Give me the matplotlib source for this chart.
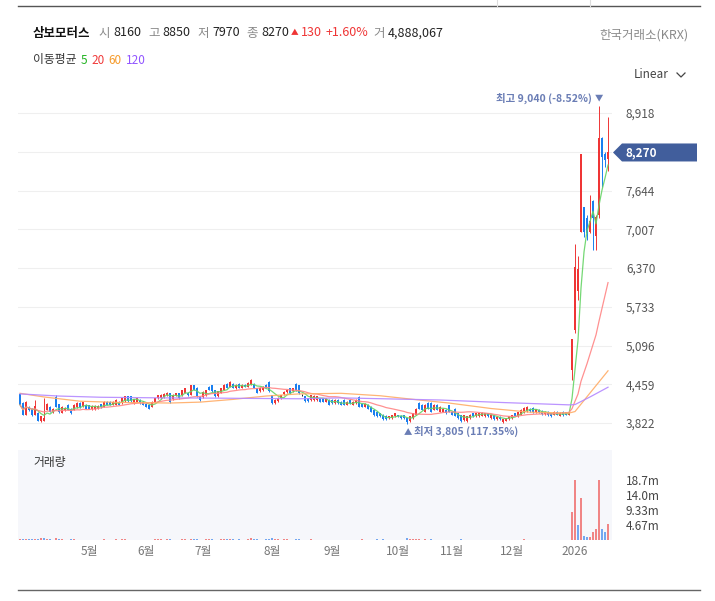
import matplotlib
matplotlib.use('Agg')
import matplotlib.pyplot as plt
import matplotlib.transforms as mtrans
from matplotlib.patches import Polygon
import numpy as np
import pandas as pd

plt.rcParams['font.family'] = ['Noto Sans CJK KR', 'DejaVu Sans']

# trading days (KRX closed days)
holidays = ['2025-05-01', '2025-05-05', '2025-05-06', '2025-06-03', '2025-06-06',
            '2025-08-15', '2025-10-03', '2025-10-06', '2025-10-07', '2025-10-08',
            '2025-10-09', '2025-12-25', '2025-12-31', '2026-01-01']
dates = pd.bdate_range('2025-03-31', '2026-01-19', freq='C', holidays=holidays)

opens = [4300,4150,3960,4090,4060,3960,3990,3850,3860,4040, 4090,4000,4250,4130,3990,4030,4120,4060,4040,4080,
         4150,4100,4120,4110,4050,4050,4060,4130,4090,4170, 4170,4120,4120,4170,4150,4180,4260,4260,4150,4170,
         4200,4170,4140,4120,4090,4170,4230,
         4230,4250,4280,4310,4210,4270,4310,4280,4320,4320, 4290,4440,4400,4250,4250,4280,4420,4440,4360,4260,
         4320,4370,4470,4420,4470,4390,4470,4400,4450,4420, 4450,4470,4390,4340,4360,4450,4500,4280,4150,4180,
         4230,4300,4330,4390,4340,4460,4440,
         4280,4260,4230,4200,4200,4200,4230,4230,4170,4200, 4200,4150,4200,4170,4200,4120,4200,4120,4150,4250,
         4140,4090,4120,4090,4040,4010,3980,3960,3940,3900, 3900,3930,3950,3940,3950,3900,3850,3900,3960,4150,
         4120,4010,4150,4150,4040,4120,4010,4010,4040,4110,
         4000,4060,3980,3950,3870,3850,3900,3980,3930,3930, 3940,3930,3980,3900,3950,3880,3920,3830,3860,3880,
         3900,3980,3930,3960,4000,4020,4060,4070,4000,4040, 4020,3970,4010,3980,3960,4010,3940,4010,4000,3960,
         4700,5350,6000,6970,7370,7200,6960,7480,6900,7250,8500,8250,8160]
highs = [4310,4160,4180,4100,4070,4200,4000,3940,4230,4150, 4100,4070,4280,4140,4100,4080,4130,4070,4130,4160,
         4160,4170,4130,4120,4110,4110,4110,4140,4180,4180, 4180,4180,4210,4180,4240,4270,4270,4270,4220,4240,
         4210,4180,4150,4130,4180,4240,4290,
         4300,4310,4330,4320,4300,4320,4320,4370,4400,4330, 4450,4450,4410,4260,4340,4370,4430,4450,4370,4350,
         4400,4460,4480,4510,4480,4460,4480,4460,4460,4490, 4550,4480,4400,4410,4430,4460,4510,4290,4210,4250,
         4290,4340,4380,4400,4400,4480,4450,
         4300,4270,4240,4290,4280,4270,4240,4240,4240,4210, 4210,4210,4210,4180,4210,4180,4210,4180,4210,4260,
         4150,4150,4130,4100,4050,4020,3990,3970,3950,3940, 3960,3990,3960,3950,3960,3910,3940,3990,4070,4170,
         4130,4130,4160,4160,4130,4130,4100,4070,4050,4120,
         4010,4070,3990,3960,3960,3940,3970,3990,3990,3990, 3995,3990,3990,3960,3960,3930,3930,3890,3910,3940,
         3960,3990,4010,4050,4080,4100,4070,4080,4060,4050, 4030,4020,4020,3990,4020,4020,4000,4020,4010,4020,
         5210,6770,6560,8250,7380,7250,7570,7490,7250,9040,8530,8280,8850]
lows = [4100,3950,3950,4020,3940,3950,3850,3840,3850,4030, 4000,3990,4080,3990,3980,4020,4030,3970,4030,4070,
        4070,4090,4050,4050,4040,4040,4050,4070,4080,4110, 4110,4110,4110,4110,4140,4170,4170,4170,4140,4160,
        4140,4110,4080,4050,4080,4160,4220,
        4220,4240,4270,4150,4200,4260,4220,4270,4310,4270, 4280,4360,4250,4190,4240,4270,4360,4330,4250,4250,
        4310,4360,4390,4410,4390,4380,4390,4390,4410,4410, 4440,4390,4310,4330,4350,4390,4330,4140,4140,4170,
        4220,4290,4320,4300,4330,4350,4300,
        4260,4170,4170,4190,4190,4190,4160,4160,4160,4110, 4140,4140,4140,4110,4110,4110,4140,4110,4140,4080,
        4080,4080,4050,4000,3940,3920,3920,3870,3870,3890, 3890,3920,3920,3890,3890,3805,3840,3890,3950,4050,
        4030,4000,4050,4000,4030,4030,4000,4000,3970,4000,
        3950,3930,3890,3840,3860,3840,3890,3920,3920,3920, 3930,3920,3920,3890,3870,3870,3870,3815,3850,3870,
        3890,3930,3920,3950,3990,4010,4010,3990,3990,3990, 3960,3960,3940,3920,3950,3950,3930,3940,3950,3950,
        4530,5300,5840,6960,6880,6830,6940,6670,6670,7200,7710,8030,7970]
closes = [4120,3960,4170,4035,3950,4100,3860,3930,3900,4140, 4010,4060,4090,4000,4090,4070,4040,3980,4120,4150,
          4080,4160,4060,4060,4100,4100,4100,4080,4170,4120, 4120,4170,4200,4120,4230,4260,4180,4180,4210,4230,
          4150,4120,4090,4060,4170,4230,4280,
          4290,4300,4320,4160,4290,4310,4230,4360,4390,4280, 4440,4370,4260,4200,4330,4360,4370,4340,4260,4340,
          4390,4450,4400,4500,4400,4450,4400,4450,4420,4480, 4530,4400,4320,4400,4420,4400,4340,4150,4200,4240,
          4280,4330,4370,4310,4390,4360,4310,
          4280,4180,4180,4280,4270,4260,4170,4170,4230,4120, 4150,4200,4150,4120,4120,4170,4150,4170,4200,4090,
          4090,4140,4060,4010,3950,3930,3930,3880,3880,3930, 3950,3980,3930,3900,3900,3840,3930,3980,4060,4060,
          4040,4120,4060,4010,4120,4040,4090,4060,3980,4010,
          3960,3940,3900,3850,3950,3930,3960,3930,3980,3980, 3985,3980,3930,3950,3880,3920,3880,3880,3900,3930,
          3950,3940,4000,4040,4070,4090,4020,4000,4050,4000, 3970,4010,3950,3930,4010,3960,3990,3950,3960,4010,
          5210,6390,6350,8250,6970,6950,7150,7200,7210,8500,8200,8140,8270]
# volume in millions
volumes = [0.32,0.41,0.35,0.18,0.22,0.27,0.30,0.62,0.55,0.24,0.16,0.14,0.71,0.28,0.19,0.13,0.15,0.17,0.16,0.14,
           0.12,0.15,0.13,0.11,0.10,0.09,0.11,0.12,0.16,0.13,0.11,0.12,0.18,0.14,0.20,0.22,0.15,0.13,0.12,0.14,
           0.11,0.12,0.10,0.12,0.15,0.19,0.21,0.17,0.15,0.16,0.22,0.14,0.13,0.12,0.18,0.20,0.14,0.26,0.19,0.21,
           0.15,0.14,0.16,0.18,0.17,0.15,0.13,0.17,0.22,0.18,0.24,0.19,0.15,0.16,0.14,0.13,0.18,0.48,0.21,0.19,
           0.15,0.14,0.16,0.22,0.58,0.25,0.17,0.15,0.16,0.18,0.14,0.15,0.27,0.19,0.13,0.15,0.14,0.17,0.13,0.12,
           0.13,0.12,0.11,0.13,0.12,0.10,0.11,0.12,0.13,0.10,0.11,0.12,0.10,0.13,0.16,0.11,0.10,0.12,0.13,0.17,
           0.14,0.16,0.12,0.11,0.12,0.11,0.13,0.12,0.14,0.52,0.31,0.22,0.28,0.21,0.15,0.17,0.14,0.16,0.15,0.13,
           0.12,0.11,0.13,0.14,0.12,0.15,0.13,0.16,0.14,0.12,0.11,0.10,0.11,0.10,0.09,0.10,0.11,0.10,0.12,0.11,
           0.10,0.14,0.11,0.10,0.11,0.12,0.13,0.15,0.16,0.14,0.12,0.11,0.10,0.11,0.12,0.10,0.11,0.10,0.09,0.10,
           0.11,0.10,0.12,0.15,
           8.8,18.662,4.7,13.0,1.2,1.0,1.0,2.4,3.3,18.6,3.3,2.5,4.888067]

# long moving averages (index, value)
ma60_idx = [0, 8, 20, 33, 50, 60, 71, 82, 93, 107, 120, 133, 143, 157, 170, 183, 185, 190, 196]
ma60_val = [4310, 4250, 4180, 4160, 4150, 4165, 4210, 4265, 4300, 4310, 4270, 4200, 4150, 4060, 4000, 3985, 4010, 4315, 4680]
ma120_idx = [0, 13, 27, 47, 67, 93, 107, 140, 160, 183, 185, 190, 196]
ma120_val = [4300, 4265, 4245, 4235, 4230, 4220, 4235, 4200, 4160, 4120, 4125, 4250, 4410]

price_ticks = [3822, 4459, 5096, 5733, 6370, 7007, 7644, 8281, 8918]

W, H = 715, 601
df = pd.DataFrame({'open': opens, 'high': highs, 'low': lows, 'close': closes, 'vol': volumes}, index=dates)
x = np.arange(len(df))
o, h, l, c = df['open'].values, df['high'].values, df['low'].values, df['close'].values

RED, BLUE = '#ef3535', '#1a7ff0'
col = np.where(c > o, RED, np.where(c < o, BLUE, '#222222'))

fig = plt.figure(figsize=(W / 100, H / 100), dpi=100)
fig.patch.set_facecolor('white')
ax = fig.add_axes([18 / W, (H - 445) / H, 594 / W, 350 / H])
axv = fig.add_axes([18 / W, (H - 540) / H, 594 / W, 90 / H])

# price panel
for yv in price_ticks:
    ax.axhline(yv, color='#efefef', lw=0.8, zorder=0)
ax.vlines(x, l, h, colors=col, lw=0.7, zorder=3)
ax.bar(x, np.maximum(np.abs(c - o), 10), bottom=np.minimum(o, c), width=0.62, color=col, zorder=3)

ma5 = df['close'].rolling(5, min_periods=1).mean()
ma20 = df['close'].rolling(20, min_periods=1).mean()
ax.plot(x, ma5, color='#66d466', lw=0.9, alpha=0.9, zorder=4)
ax.plot(x, ma20, color='#ff8585', lw=0.9, alpha=0.9, zorder=4)
ax.plot(ma60_idx, ma60_val, color='#ffac66', lw=0.9, alpha=0.9, zorder=4)
ax.plot(ma120_idx, ma120_val, color='#b488ff', lw=0.9, alpha=0.9, zorder=4)

ax.set_xlim(-0.67, len(df) + 0.33)
ax.set_ylim(3460, 9215)
for s in ax.spines.values():
    s.set_visible(False)
ax.set_xticks([])
ax.yaxis.tick_right()
ax.set_yticks(price_ticks)
last = c[-1]
# the tick hidden under the current-price tag gets no label
ax.set_yticklabels(['' if abs(v - last) < 100 else f'{v:,}' for v in price_ticks])
ax.tick_params(axis='y', length=0, pad=10, labelsize=8.5, labelcolor='#555555')

# highest / lowest markers
hi_i, lo_i = int(np.argmax(h)), int(np.argmin(l))
hi, lo = h[hi_i], l[lo_i]
mark_col = '#6a7db5'
ax.annotate('▼', xy=(hi_i, hi), xytext=(0, 2), textcoords='offset points', ha='center', va='bottom',
            fontsize=6, color=mark_col)
ax.annotate(f'최고 {hi:,} ({(last / hi - 1) * 100:.2f}%)', xy=(hi_i, hi), xytext=(-5, 1.5),
            textcoords='offset points', ha='right', va='bottom', fontsize=7.5, color=mark_col, fontweight='bold')
ax.annotate('▲', xy=(lo_i, lo), xytext=(1, -3), textcoords='offset points', ha='center', va='top',
            fontsize=6, color=mark_col)
ax.annotate(f'최저 {lo:,} ({(last / lo - 1) * 100:.2f}%)', xy=(lo_i, lo), xytext=(5, -1.5),
            textcoords='offset points', ha='left', va='top', fontsize=7.5, color=mark_col, fontweight='bold')

# current price tag
dy = 9 * (9215 - 3460) / 350
tr = mtrans.blended_transform_factory(fig.transFigure, ax.transData)
tag = Polygon([(613 / W, last), (622 / W, last + dy), (697 / W, last + dy), (697 / W, last - dy), (622 / W, last - dy)],
              closed=True, transform=tr, facecolor='#415e9c', edgecolor='none', clip_on=False, zorder=10)
ax.add_patch(tag)
ax.text(626 / W, last, f'{last:,}', transform=tr, color='white', fontsize=8.5, fontweight='bold',
        va='center', ha='left', zorder=11, clip_on=False)

# volume panel
axv.set_facecolor('#f6f7fb')
vcol = ['#f08585' if i == 0 or c[i] >= c[i - 1] else '#74a7f0' for i in range(len(c))]
axv.bar(x, df['vol'], width=0.5, color=vcol)
axv.set_xlim(ax.get_xlim())
vmax = df['vol'].max()
axv.set_ylim(0, vmax * 1.5)
for s in axv.spines.values():
    s.set_visible(False)
vt = [vmax * k / 4 for k in (1, 2, 3, 4)]


def sig3(v):
    d = max(0, 2 - int(np.floor(np.log10(v))))
    return f'{v:.{d}f}m'


axv.yaxis.tick_right()
axv.set_yticks(vt)
axv.set_yticklabels([sig3(v) for v in vt])
axv.tick_params(axis='y', length=0, pad=10, labelsize=8.5, labelcolor='#444444')

# month labels (the month the chart opens in is not labelled)
month_pos = [i for i in range(1, len(dates)) if dates[i].month != dates[i - 1].month][1:]
month_lab = [str(dates[i].year) if dates[i].month == 1 else f'{dates[i].month}월' for i in month_pos]
axv.set_xticks(month_pos)
axv.set_xticklabels(month_lab)
axv.tick_params(axis='x', length=0, pad=3.5, labelsize=8.5, labelcolor='#777777')
axv.text(15 / 594, 0.86, '거래량', transform=axv.transAxes, fontsize=8.5, color='#333333', va='center')

# header
renderer = fig.canvas.get_renderer()


def put_row(items, x0, y0):
    xp = x0
    for txt, color, size, weight, gap in items:
        xp += gap
        t = fig.text(xp / W, 1 - y0 / H, txt, color=color, fontsize=size, fontweight=weight, va='center', ha='left')
        xp = t.get_window_extent(renderer).x1


chg = c[-1] - c[-2]
pct = chg / c[-2] * 100
vol_last = int(round(volumes[-1] * 1e6))
g, d = '#8a8a8a', '#222222'
put_row([('삼보모터스', '#111111', 9, 'bold', 0),
         ('시', g, 9, 'normal', 8), (f'{o[-1]}', d, 9, 'medium', 3),
         ('고', g, 9, 'normal', 7), (f'{h[-1]}', d, 9, 'medium', 3),
         ('저', g, 9, 'normal', 7), (f'{l[-1]}', d, 9, 'medium', 3),
         ('종', g, 9, 'normal', 7), (f'{c[-1]}', d, 9, 'medium', 3),
         ('▲', RED, 5.5, 'normal', 2), (f'{chg}', RED, 9, 'medium', 2), (f'+{pct:.2f}%', RED, 9, 'medium', 4),
         ('거', g, 9, 'normal', 5), (f'{vol_last:,}', d, 9, 'medium', 3)], 33, 33)
put_row([('이동평균', '#333333', 8.5, 'normal', 0), ('5', '#22b322', 8.5, 'normal', 4),
         ('20', '#f03a3a', 8.5, 'normal', 4), ('60', '#f59a2a', 8.5, 'normal', 4),
         ('120', '#9155ff', 8.5, 'normal', 4)], 33, 60)
fig.text(688 / W, 1 - 35 / H, '한국거래소(KRX)', color='#8a8a8a', fontsize=9, ha='right', va='center')
fig.text(669 / W, 1 - 75 / H, 'Linear', color='#444444', fontsize=8.5, ha='right', va='center')
fig.add_artist(plt.Line2D([677 / W, 681 / W, 685 / W], [1 - 73 / H, 1 - 77 / H, 1 - 73 / H],
                          color='#444444', lw=0.9))

# rules
fig.add_artist(plt.Line2D([18 / W, 700 / W], [1 - 6 / H, 1 - 6 / H], color='#555555', lw=1.0))
for xv in (497, 590):
    fig.add_artist(plt.Line2D([xv / W, xv / W], [1.0, 1 - 6 / H], color='#dddddd', lw=0.8))
fig.add_artist(plt.Line2D([18 / W, 700 / W], [1 - 590 / H, 1 - 590 / H], color='#666666', lw=1.0))

fig.savefig('out.png', dpi=100, facecolor='white')
